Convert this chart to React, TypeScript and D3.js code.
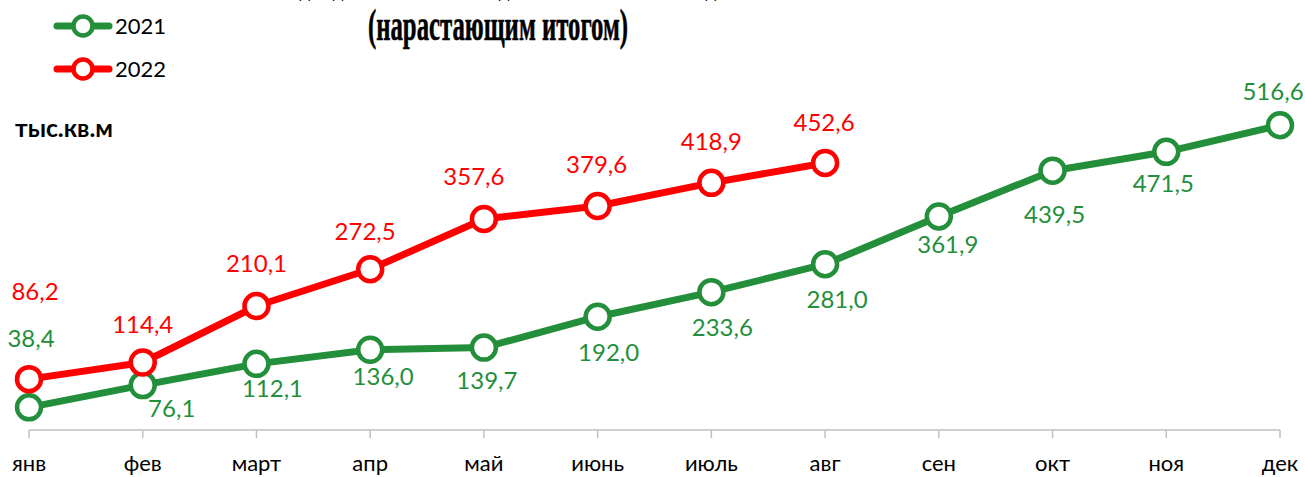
import React from 'react';
import * as d3 from 'd3';

// data
const months = ['янв', 'фев', 'март', 'апр', 'май', 'июнь', 'июль', 'авг', 'сен', 'окт', 'ноя', 'дек'];
const values2021 = [38.4, 76.1, 112.1, 136.0, 139.7, 192.0, 233.6, 281.0, 361.9, 439.5, 471.5, 516.6];
const values2022 = [86.2, 114.4, 210.1, 272.5, 357.6, 379.6, 418.9, 452.6];
const seriesNames = ['2021', '2022'];

// label placement (like excel manual positions): [dx, dy]
const greenLabelPos = [[2, -60], [29, 32], [16, 33], [13, 35], [3, 41], [11, 44], [11, 44], [12, 44], [9, 37], [2, 52], [-3, 40], [-7, -25]];
const redLabelPos = [[6, -79], [0, -30], [0, -34], [-5, -29], [-10, -34], [-1, -33], [0, -33], [-1, -32]];

const W = 1305;
const H = 477;
const GREEN = '#238F3B';
const RED = '#FF0000';
const fmt = (v: number) => v.toFixed(1).replace('.', ',');

export default function App() {
  const x = d3.scalePoint<string>().domain(months).range([29, 1280]);
  const y = d3.scaleLinear().domain([0, 600]).range([430, 76]);

  const line = d3.line<number>()
    .x((d, i) => x(months[i]) as number)
    .y((d) => y(d));

  const series = [
    { name: seriesNames[0], values: values2021, color: GREEN, pos: greenLabelPos },
    { name: seriesNames[1], values: values2022, color: RED, pos: redLabelPos },
  ];

  return (
    <svg width={W} height={H} style={{ position: 'absolute', left: 0, top: 0, background: '#fff' }}>
      {/* title (first line is cut by the picture edge) */}
      <text x={498} y={-7} textAnchor="middle" fontFamily="'Liberation Serif', serif" fontWeight="bold"
        fontSize={46} textLength={470} lengthAdjust="spacingAndGlyphs">
        Ввод в действие жилых домов за 2021-2022 годы
      </text>
      <text x={498} y={40} textAnchor="middle" fontFamily="'Liberation Serif', serif" fontWeight="bold"
        fontSize={45} textLength={260} lengthAdjust="spacingAndGlyphs" stroke="#000" strokeWidth={0.6}>
        (нарастающим итогом)
      </text>

      <text x={15} y={137} fontFamily="Lato, sans-serif" fontWeight="bold" fontSize={24} textLength={98}
        lengthAdjust="spacingAndGlyphs">тыс.кв.м</text>

      {/* legend */}
      {series.map((s, i) => (
        <g key={s.name} transform={`translate(0,${26 + i * 43})`}>
          <line x1={57} x2={109} y1={0} y2={0} stroke={s.color} strokeWidth={7} strokeLinecap="round" />
          <circle cx={83} cy={0} r={9.5} fill="#fff" stroke={s.color} strokeWidth={4.5} />
          <text x={115} y={8} fontFamily="Lato, sans-serif" fontSize={22} fill="#000">{s.name}</text>
        </g>
      ))}

      {/* x axis */}
      <line x1={29} x2={1280} y1={430} y2={430} stroke="#BFBFBF" strokeWidth={1.5} />
      {months.map((m) => (
        <g key={m}>
          <line x1={x(m)} x2={x(m)} y1={430} y2={438} stroke="#BFBFBF" strokeWidth={1.5} />
          <text x={x(m)} y={471} textAnchor="middle" fontFamily="Lato, sans-serif" fontSize={22} fill="#000">{m}</text>
        </g>
      ))}

      {/* series */}
      {series.map((s) => (
        <g key={s.name}>
          <path d={line(s.values) || ''} fill="none" stroke={s.color} strokeWidth={7} strokeLinejoin="round" />
          {s.values.map((v, i) => (
            <circle key={i} cx={x(months[i])} cy={y(v)} r={12} fill="#fff" stroke={s.color} strokeWidth={4.5} />
          ))}
          {s.values.map((v, i) => (
            <text key={'t' + i} x={(x(months[i]) as number) + s.pos[i][0]} y={y(v) + s.pos[i][1]}
              textAnchor="middle" fontFamily="Lato, sans-serif" fontSize={24} fill={s.color}>
              {fmt(v)}
            </text>
          ))}
        </g>
      ))}
    </svg>
  );
}
